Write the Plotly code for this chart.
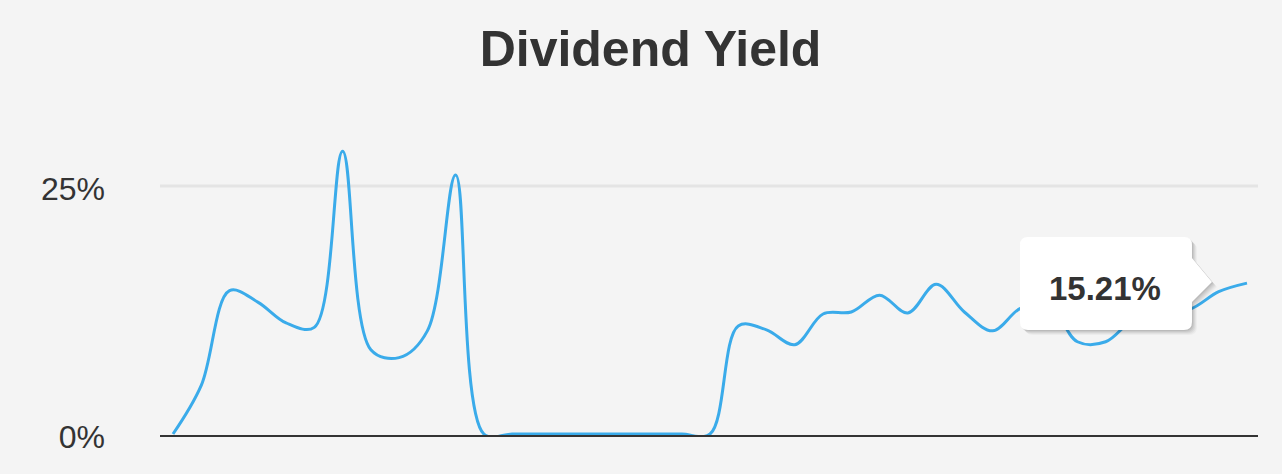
import plotly.graph_objects as go

# ---- data ----
periods = list(range(39))
yield_pct = [0, 4.9, 14.45, 13.3, 11.2, 10.75, 28.5, 8.5, 7.7, 10.4, 26.1,
             0, 0, 0, 0, 0, 0, 0, 0, 0,
             10.9, 10.5, 9.0, 12.1, 12.3, 14.0, 12.2, 15.1, 12.3, 10.4, 12.7,
             13.0, 9.3, 9.3, 11.6, 12.3, 12.6, 14.35, 15.21]
tick_values = [0, 25]
tick_labels = ["0%", "25%"]
title_text = "Dividend Yield"

FONT = "Liberation Sans, Arial, Helvetica, sans-serif"
TEXT = "#333333"
BG = "#f4f4f4"
LINE = "#3aabea"

fig = go.Figure()
fig.add_trace(go.Scatter(
    x=periods, y=yield_pct, mode="lines",
    line=dict(color=LINE, width=3, shape="spline", smoothing=1.0),
    hoverinfo="skip", showlegend=False,
))


def tooltip_path(dx=0, dy=0):
    L, R, T, B, r = -227 + dx, -55 + dx, 46 + dy, -47 + dy, 8
    return (f"M {L + r},{T} L {R - r},{T} Q {R},{T} {R},{T - r} "
            f"L {R},{25 + dy} L {-35 + dx},{1 + dy} L {R},{-19 + dy} "
            f"L {R},{B + r} Q {R},{B} {R - r},{B} L {L + r},{B} "
            f"Q {L},{B} {L},{B + r} L {L},{T - r} Q {L},{T} {L + r},{T} Z")


last_x, last_y = periods[-1], yield_pct[-1]
shapes = [
    # 25% gridline
    dict(type="line", xref="paper", x0=0, x1=1, yref="y", y0=25, y1=25,
         line=dict(color="#e4e4e4", width=3), layer="below"),
]
for i, op in [(5, 0.03), (4, 0.04), (3, 0.05), (2, 0.06), (1, 0.07)]:
    shapes.append(dict(type="path", xref="x", yref="y", xsizemode="pixel", ysizemode="pixel",
                       xanchor=last_x, yanchor=last_y, path=tooltip_path(i, -i),
                       fillcolor=f"rgba(0,0,0,{op})", line=dict(width=0), layer="above"))
shapes.append(dict(type="path", xref="x", yref="y", xsizemode="pixel", ysizemode="pixel",
                   xanchor=last_x, yanchor=last_y, path=tooltip_path(),
                   fillcolor="#ffffff", line=dict(width=0), layer="above"))

fig.update_layout(
    width=1282, height=474,
    paper_bgcolor=BG, plot_bgcolor=BG,
    margin=dict(l=160, r=24, t=100, b=39),
    font=dict(family=FONT, color=TEXT),
    title=dict(text=title_text, x=650.5 / 1282, xref="container", xanchor="center",
               y=1 - 48.5 / 474, yref="container", yanchor="middle",
               font=dict(size=50, family=FONT, color=TEXT, weight="bold")),
    xaxis=dict(range=[-0.46, 38.39], showgrid=False, zeroline=False, showticklabels=False,
               showline=True, linecolor=TEXT, linewidth=2, ticks=""),
    yaxis=dict(range=[-0.1, 33.67], showgrid=False, zeroline=False, showline=False,
               tickvals=tick_values, ticktext=tick_labels, ticks="",
               tickfont=dict(size=32, family=FONT, color=TEXT),
               ticklabelstandoff=54, ticklabelshift=3),
    shapes=shapes,
    annotations=[dict(x=last_x, y=last_y, xref="x", yref="y",
                      text=f"<b>{last_y:.2f}%</b>", showarrow=False,
                      xshift=-142, yshift=-5,
                      font=dict(size=33, family=FONT, color=TEXT))],
)

fig.write_html(
    "out.html",
    config={"displayModeBar": False},
    post_script="document.body.style.margin='0';document.body.style.background='#f4f4f4';",
)
